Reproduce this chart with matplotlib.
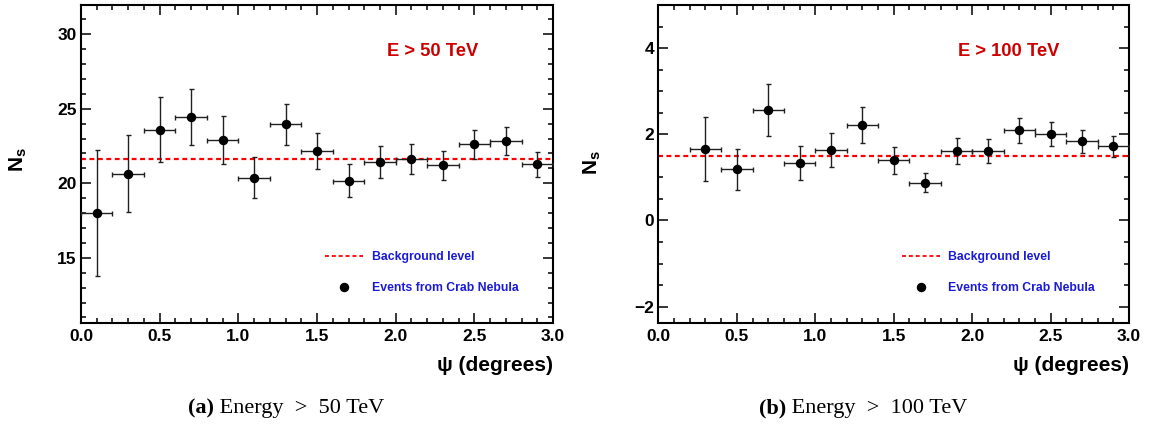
import matplotlib
matplotlib.use("Agg")
import matplotlib.pyplot as plt
from matplotlib.lines import Line2D
from matplotlib.ticker import MultipleLocator, FormatStrFormatter
from matplotlib.text import Annotation

plt.rcParams['font.family'] = ['Liberation Sans', 'DejaVu Sans']
plt.rcParams['mathtext.fontset'] = 'custom'
plt.rcParams['mathtext.rm'] = 'Liberation Sans'
plt.rcParams['mathtext.bf'] = 'Liberation Sans:bold'

# ---- data ----
psi_a = [0.1, 0.3, 0.5, 0.7, 0.9, 1.1, 1.3, 1.5, 1.7, 1.9, 2.1, 2.3, 2.5, 2.7, 2.9]
ns_a = [18.0, 20.65, 23.6, 24.42, 22.9, 20.36, 23.95, 22.14, 20.18, 21.45, 21.63, 21.2, 22.61, 22.83, 21.27]
err_a = [4.25, 2.6, 2.2, 1.87, 1.6, 1.38, 1.36, 1.2, 1.1, 1.07, 1.03, 0.96, 0.96, 0.94, 0.86]
bkg_a = 21.6

psi_b = [0.3, 0.5, 0.7, 0.9, 1.1, 1.3, 1.5, 1.7, 1.9, 2.1, 2.3, 2.5, 2.7, 2.9]
ns_b = [1.66, 1.19, 2.56, 1.33, 1.63, 2.22, 1.40, 0.88, 1.62, 1.61, 2.09, 2.00, 1.84, 1.72]
err_b = [0.75, 0.48, 0.6, 0.39, 0.39, 0.41, 0.31, 0.23, 0.3, 0.28, 0.3, 0.28, 0.27, 0.25]
bkg_b = 1.5

bin_half = 0.1
titles = ["E > 50 TeV", "E > 100 TeV"]
captions_bold = ["(a)", "(b)"]
captions = [" Energy  >  50 TeV", " Energy  >  100 TeV"]
legend_labels = ["Background level", "Events from Crab Nebula"]

fig = plt.figure(figsize=(11.51, 4.25), dpi=100)
ax_a = fig.add_axes([0.0704, 0.24, 0.4101, 0.748])
ax_b = fig.add_axes([0.5720, 0.24, 0.4090, 0.748])

panels = [
    (ax_a, psi_a, ns_a, err_a, bkg_a, (10.63, 31.95), 5, 1, -0.133, 0.513),
    (ax_b, psi_b, ns_b, err_b, bkg_b, (-2.38, 5.0), 2, 0.5, -0.141, 0.505),
]

for i, (ax, x, y, e, bkg, ylim, ymaj, ymin, ylx, yly) in enumerate(panels):
    ax.axhline(bkg, color='#ff0000', linestyle=(0, (2.2, 1.6)), linewidth=1.6, zorder=2)
    ax.errorbar(x, y, yerr=e, xerr=bin_half, fmt='o', color='black', ecolor='#202020',
                markersize=5.8, elinewidth=1.0, capsize=1.8, capthick=1.0, zorder=3)
    ax.set_xlim(0, 3.0)
    ax.set_ylim(*ylim)
    ax.xaxis.set_major_locator(MultipleLocator(0.5))
    ax.xaxis.set_minor_locator(MultipleLocator(0.1))
    ax.yaxis.set_major_locator(MultipleLocator(ymaj))
    ax.yaxis.set_minor_locator(MultipleLocator(ymin))
    ax.xaxis.set_major_formatter(FormatStrFormatter('%.1f'))
    ax.tick_params(which='both', direction='in', top=True, right=True, width=1.1,
                   labelsize=12.5)
    ax.tick_params(axis='x', pad=4)
    ax.tick_params(axis='y', pad=3)
    ax.tick_params(which='major', length=7.2)
    ax.tick_params(which='minor', length=3.6)
    for lab in ax.get_xticklabels() + ax.get_yticklabels():
        lab.set_fontweight('bold')
    for s in ax.spines.values():
        s.set_linewidth(1.5)

    ax.set_xlabel('ψ (degrees)', fontsize=15, fontweight='bold', ha='right', va='center')
    ax.xaxis.set_label_coords(1.0, -0.135)
    ax.set_ylabel(r'$\mathbf{N_s}$', fontsize=15, va='center')
    ax.yaxis.set_label_coords(ylx, yly)

    ax.text(0.744, 0.855, titles[i], transform=ax.transAxes, ha='center', va='center',
            color='#cc0000', fontsize=13.2, fontweight='bold')

    handles = [Line2D([], [], color='#ff0000', linestyle=(0, (2.2, 1.6)), linewidth=1.3),
               Line2D([], [], color='black', marker='o', linestyle='none', markersize=5.8)]
    leg = ax.legend(handles, legend_labels, loc='upper left', bbox_to_anchor=(0.517, 0.225),
                    frameon=False, borderpad=0, borderaxespad=0, handlelength=3.1,
                    handletextpad=0.7, labelspacing=1.5, numpoints=1,
                    prop={'weight': 'bold', 'size': 8.8})
    for t in leg.get_texts():
        t.set_color('#1a1adb')

caption_x = [0.2489, 0.7498]
serif = ['Liberation Serif', 'DejaVu Serif']
for i in range(2):
    t1 = fig.text(0, 0.04, captions_bold[i], ha='left', va='center',
                  fontsize=16, fontweight='bold', family=serif)
    a = Annotation(captions[i], xy=(1, 0.5), xycoords=t1, xytext=(0, 0),
                   textcoords='offset points', ha='left', va='center', fontsize=16,
                   family=serif)
    fig.add_artist(a)
    # centre the combined caption under its panel
    fig.canvas.draw()
    r = fig.canvas.get_renderer()
    w = (t1.get_window_extent(r).width + a.get_window_extent(r).width) / fig.bbox.width
    t1.set_x(caption_x[i] - w / 2)

fig.savefig('out.png', dpi=100)
